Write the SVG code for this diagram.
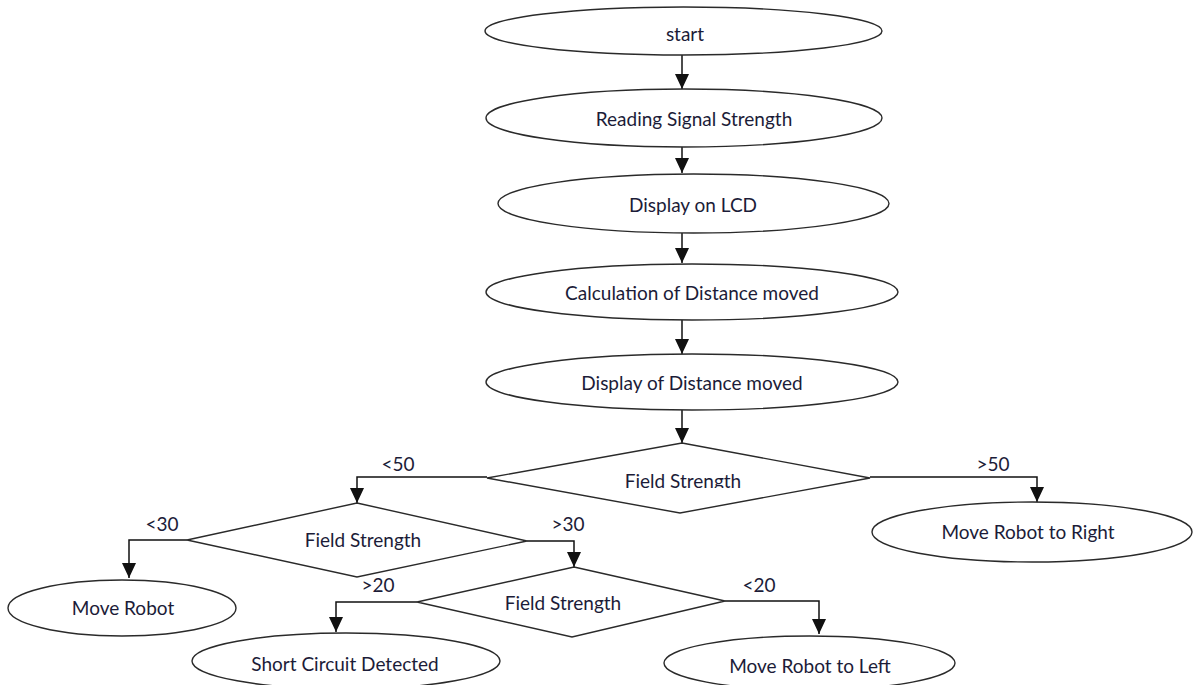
<svg xmlns="http://www.w3.org/2000/svg" width="1193" height="685" viewBox="0 0 1193 685">
<style>
.shape{fill:#fff;stroke:#2a2a2a;stroke-width:1.4}
.conn{fill:none;stroke:#111;stroke-width:1.5}
.t{font-family:Lato,"Open Sans","Liberation Sans",sans-serif;font-size:19px;fill:#1c1c38;text-anchor:middle;dominant-baseline:central}
</style>
<defs>
<marker id="ah" markerUnits="userSpaceOnUse" markerWidth="16" markerHeight="14" refX="15" refY="7" orient="auto">
<path d="M0,0 L15,7 L0,14 z" fill="#111"/>
</marker>
<clipPath id="clipD1"><rect x="480" y="440" width="400" height="48"/></clipPath>
</defs>
<rect width="1193" height="685" fill="#fff"/>
<g id="connectors">
<path class="conn" d="M682,55 V89" marker-end="url(#ah)"/>
<path class="conn" d="M682,147 V173" marker-end="url(#ah)"/>
<path class="conn" d="M682,233 V263" marker-end="url(#ah)"/>
<path class="conn" d="M682,320 V354" marker-end="url(#ah)"/>
<path class="conn" d="M682,410 V443" marker-end="url(#ah)"/>
<path class="conn" d="M487,477 H357 V503" marker-end="url(#ah)"/>
<path class="conn" d="M870,477 H1037 V502" marker-end="url(#ah)"/>
<path class="conn" d="M187,540 H129 V578" marker-end="url(#ah)"/>
<path class="conn" d="M527,541 H574 V567" marker-end="url(#ah)"/>
<path class="conn" d="M417,602 H336 V632" marker-end="url(#ah)"/>
<path class="conn" d="M725,601 H819 V634" marker-end="url(#ah)"/>
<text class="t" x="398" y="463">&lt;50</text>
<text class="t" x="993" y="463">&gt;50</text>
<text class="t" x="162" y="523">&lt;30</text>
<text class="t" x="568" y="523">&gt;30</text>
<text class="t" x="378" y="584">&gt;20</text>
<text class="t" x="759" y="584">&lt;20</text>
</g>
<g id="start"><ellipse class="shape" cx="683.5" cy="31" rx="198.5" ry="24"/><text class="t" x="685" y="33">start</text></g>
<g id="reading"><ellipse class="shape" cx="684" cy="118" rx="198" ry="29"/><text class="t" x="694" y="118">Reading Signal Strength</text></g>
<g id="lcd"><ellipse class="shape" cx="693.5" cy="203.5" rx="195.5" ry="29.5"/><text class="t" x="693" y="204">Display on LCD</text></g>
<g id="calc"><ellipse class="shape" cx="692" cy="292" rx="206" ry="28"/><text class="t" x="692" y="292">Calculation of Distance moved</text></g>
<g id="dispdist"><ellipse class="shape" cx="692" cy="382" rx="206" ry="28"/><text class="t" x="692" y="382">Display of Distance moved</text></g>
<g id="field1"><polygon class="shape" points="682,443 870,478 680,513 487,478"/><text class="t" x="683" y="480" clip-path="url(#clipD1)">Field Strength</text></g>
<g id="field2"><polygon class="shape" points="357,503 527,541 357,577 187,540"/><text class="t" x="363" y="539">Field Strength</text></g>
<g id="field3"><polygon class="shape" points="574,567 725,601 572,637 417,602"/><text class="t" x="563" y="602">Field Strength</text></g>
<g id="right"><ellipse class="shape" cx="1032" cy="532" rx="160" ry="30"/><text class="t" x="1028" y="531">Move Robot to Right</text></g>
<g id="moverobot"><ellipse class="shape" cx="122" cy="608" rx="114" ry="28"/><text class="t" x="123" y="607">Move Robot</text></g>
<g id="short"><ellipse class="shape" cx="346" cy="661" rx="154" ry="28"/><text class="t" x="345" y="663">Short Circuit Detected</text></g>
<g id="left"><ellipse class="shape" cx="809.5" cy="663" rx="145.5" ry="27"/><text class="t" x="810" y="665">Move Robot to Left</text></g>
</svg>
